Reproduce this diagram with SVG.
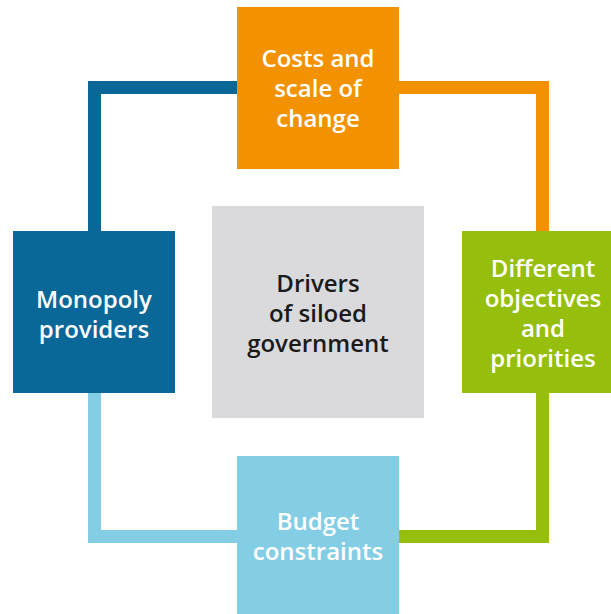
<svg xmlns="http://www.w3.org/2000/svg" width="611" height="614" viewBox="0 0 611 614">
<style>
.t{font-family:"Open Sans","Liberation Sans",sans-serif;font-size:24px;font-weight:600;fill:#fff;text-anchor:middle}
.c{fill:#1a1a1a}
.ln{fill:none;stroke-width:13;stroke-linejoin:miter;stroke-linecap:butt}
</style>
<rect width="611" height="614" fill="#fff"/>
<g id="connectors">
<polyline class="ln" stroke="#0A6899" points="237,87.5 94.5,87.5 94.5,231"/>
<polyline class="ln" stroke="#F39200" points="399,87.5 542.5,87.5 542.5,231"/>
<polyline class="ln" stroke="#96BF0D" points="542.5,393 542.5,536.5 399,536.5"/>
<polyline class="ln" stroke="#83CEE5" points="94.5,393 94.5,536.5 237,536.5"/>
</g>
<g id="center">
<rect x="212" y="206" width="212" height="212" fill="#DADADC"/>
<text class="t c" x="318" y="292">Drivers</text>
<text class="t c" x="318" y="322">of siloed</text>
<text class="t c" x="318" y="352">government</text>
</g>
<g id="costs">
<rect x="237" y="7" width="162" height="162" fill="#F39200"/>
<text class="t" x="318" y="67">Costs and</text>
<text class="t" x="318" y="97">scale of</text>
<text class="t" x="318" y="127">change</text>
</g>
<g id="monopoly">
<rect x="13" y="231" width="162" height="162" fill="#0A6899"/>
<text class="t" x="94" y="308">Monopoly</text>
<text class="t" x="94" y="338">providers</text>
</g>
<g id="objectives">
<rect x="462" y="231" width="162" height="162" fill="#96BF0D"/>
<text class="t" x="543" y="277">Different</text>
<text class="t" x="543" y="307">objectives</text>
<text class="t" x="543" y="337">and</text>
<text class="t" x="543" y="367">priorities</text>
</g>
<g id="budget">
<rect x="237" y="456" width="162" height="162" fill="#83CEE5"/>
<text class="t" x="318" y="530">Budget</text>
<text class="t" x="318" y="560">constraints</text>
</g>
</svg>
